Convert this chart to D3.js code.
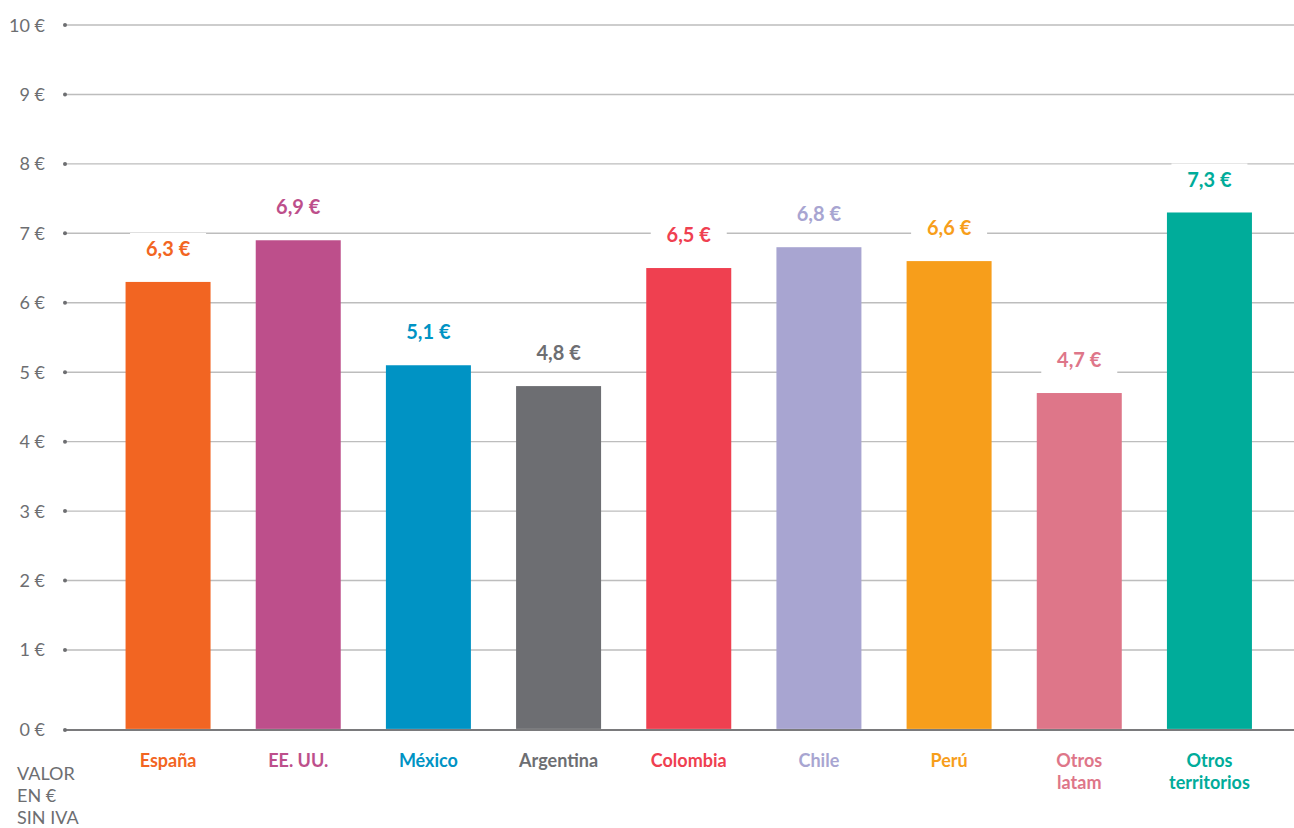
<!DOCTYPE html>
<html>
<head>
<meta charset="utf-8">
<script src="https://cdn.jsdelivr.net/npm/d3@7"></script>
<style>
  html, body { margin: 0; padding: 0; background: #fff; }
  svg { display: block; font-family: Lato, "Open Sans", sans-serif; }
</style>
</head>
<body>
<svg id="chart" width="1294" height="828"></svg>
<script>
// Average value per territory (EUR, excluding VAT)
const categories = ["España", "EE. UU.", "México", "Argentina", "Colombia", "Chile", "Perú", "Otros latam", "Otros territorios"];
const categoryLines = [["España"], ["EE. UU."], ["México"], ["Argentina"], ["Colombia"], ["Chile"], ["Perú"], ["Otros", "latam"], ["Otros", "territorios"]];
const values = [6.3, 6.9, 5.1, 4.8, 6.5, 6.8, 6.6, 4.7, 7.3];
const valueLabels = ["6,3 €", "6,9 €", "5,1 €", "4,8 €", "6,5 €", "6,8 €", "6,6 €", "4,7 €", "7,3 €"];
const colors = ["#f26522", "#bd4f8b", "#0093c4", "#6d6e72", "#ef4050", "#a8a5d1", "#f79e1b", "#de7689", "#00ac9a"];
const yTicks = [0, 1, 2, 3, 4, 5, 6, 7, 8, 9, 10];
const yTickLabels = ["0 €", "1 €", "2 €", "3 €", "4 €", "5 €", "6 €", "7 €", "8 €", "9 €", "10 €"];
const unitNote = ["VALOR", "EN €", "SIN IVA"];

const svg = d3.select("#chart");
const gridLeft = 65, gridRight = 1294;
const baselineGap = 10.5; // baseline sits a little below the zero of the scale

const y = d3.scaleLinear().domain([0, 10]).range([719.4, 25]);
const baseY = y(0) + baselineGap;

const x = d3.scaleBand()
  .domain(categories)
  .range([80, 1297.5])
  .paddingInner(0.347)
  .paddingOuter(0.35);

// Horizontal grid
const grid = svg.append("g");
grid.selectAll("line")
  .data(yTicks)
  .join("line")
  .attr("x1", gridLeft)
  .attr("x2", gridRight)
  .attr("y1", d => d === 0 ? baseY : y(d))
  .attr("y2", d => d === 0 ? baseY : y(d))
  .attr("stroke", d => d === 0 ? "#7a7a7c" : "#bdbdbd")
  .attr("stroke-width", d => d === 0 ? 2 : 1.4);

grid.selectAll("circle")
  .data(yTicks)
  .join("circle")
  .attr("cx", gridLeft)
  .attr("cy", d => d === 0 ? baseY : y(d))
  .attr("r", 2)
  .attr("fill", "#6d6e71");

// Axis labels
svg.append("g").selectAll("text")
  .data(yTicks)
  .join("text")
  .attr("x", 45)
  .attr("y", d => (d === 0 ? baseY : y(d)) + 6.5)
  .attr("text-anchor", "end")
  .attr("font-size", 18)
  .attr("fill", "#6d6e71")
  .text((d, i) => yTickLabels[i]);

// Bars
svg.append("g").selectAll("rect")
  .data(values)
  .join("rect")
  .attr("x", (d, i) => x(categories[i]))
  .attr("width", x.bandwidth())
  .attr("y", d => y(d))
  .attr("height", d => baseY - y(d) - 1)
  .attr("fill", (d, i) => colors[i]);

// Value labels with white backing
const vl = svg.append("g").selectAll("g")
  .data(values)
  .join("g")
  .attr("transform", (d, i) => `translate(${x(categories[i]) + x.bandwidth() / 2},${y(d) - 33})`);

vl.append("rect")
  .attr("x", -38)
  .attr("y", -16)
  .attr("width", 76)
  .attr("height", 32)
  .attr("fill", "#fff");

vl.append("text")
  .attr("text-anchor", "middle")
  .attr("dy", "0.36em")
  .attr("font-size", 20)
  .attr("font-weight", 700)
  .attr("fill", (d, i) => colors[i])
  .text((d, i) => valueLabels[i]);

// Category labels
const cl = svg.append("g").selectAll("text")
  .data(categories)
  .join("text")
  .attr("x", d => x(d) + x.bandwidth() / 2)
  .attr("y", 767)
  .attr("text-anchor", "middle")
  .attr("font-size", 18)
  .attr("font-weight", 700)
  .attr("fill", (d, i) => colors[i]);

cl.selectAll("tspan")
  .data((d, i) => categoryLines[i].map(t => ({ t, x: x(d) + x.bandwidth() / 2 })))
  .join("tspan")
  .attr("x", d => d.x)
  .attr("dy", (d, j) => j === 0 ? 0 : 22)
  .text(d => d.t);

// Unit note
svg.append("text")
  .attr("x", 17)
  .attr("y", 780)
  .attr("font-size", 18)
  .attr("fill", "#6d6e71")
  .selectAll("tspan")
  .data(unitNote)
  .join("tspan")
  .attr("x", 17)
  .attr("dy", (d, i) => i === 0 ? 0 : 22)
  .text(d => d);
</script>
</body>
</html>
